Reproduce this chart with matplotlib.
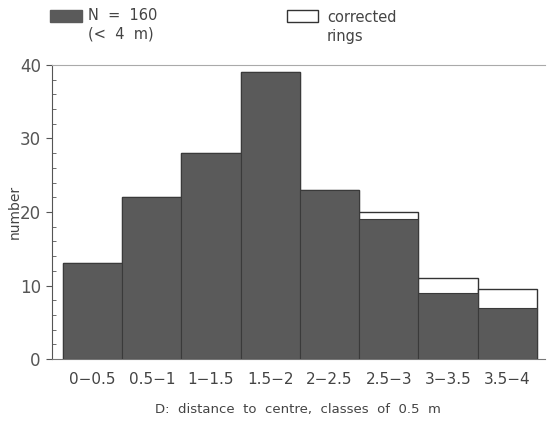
import matplotlib.pyplot as plt
import matplotlib.patches as mpatches
from matplotlib.ticker import MultipleLocator

categories = ["0−0.5", "0.5−1", "1−1.5", "1.5−2", "2−2.5", "2.5−3", "3−3.5", "3.5−4"]
observed = [13, 22, 28, 39, 23, 19, 9, 7]
corrected = [13, 22, 28, 39, 23, 20, 11, 9.5]

plt.rcParams['font.family'] = ['DejaVu Sans']
txt = '#444444'
dark = '#5a5a5a'

fig = plt.figure(figsize=(5.47, 4.24), dpi=100)
ax = fig.add_axes([0.095, 0.153, 0.901, 0.694])
x = list(range(len(categories)))
ax.bar(x, corrected, width=1.0, color='white', edgecolor='#333333', linewidth=1.0, zorder=2)
ax.bar(x, observed, width=1.0, color=dark, edgecolor='#3a3a3a', linewidth=0.8, zorder=3)

ax.set_xlim(-0.686, 7.635)
ax.set_ylim(0, 40)
ax.set_xticks(x)
ax.set_xticklabels(categories, fontsize=11, color=txt)
ax.tick_params(axis='x', length=0, pad=9)
ax.yaxis.set_major_locator(MultipleLocator(10))
ax.yaxis.set_minor_locator(MultipleLocator(2))
ax.tick_params(axis='y', which='major', direction='out', length=4, labelsize=12, colors='#555555', labelcolor='#555555', pad=4)
ax.tick_params(axis='y', which='minor', direction='in', length=3, color='#555555')
ax.spines['right'].set_visible(False)
ax.spines['top'].set_color('#aaaaaa')
ax.spines['left'].set_color('#555555')
ax.spines['bottom'].set_color('#777777')
ax.set_ylabel('number', fontsize=10, color=txt)
ax.yaxis.set_label_coords(-0.062, 0.5)
ax.set_xlabel('D:  distance  to  centre,  classes  of  0.5  m', fontsize=9.5, color=txt, labelpad=12)

# legend
fig.patches.append(mpatches.Rectangle((50/547, 1-22/424), 32/547, 12/424, transform=fig.transFigure,
                                      facecolor=dark, edgecolor=dark, figure=fig))
fig.patches.append(mpatches.Rectangle((287/547, 1-22/424), 31/547, 12/424, transform=fig.transFigure,
                                      facecolor='white', edgecolor='#333333', linewidth=1.0, figure=fig))
fig.text(88/547, 1-16/424, 'N  =  160', fontsize=10.5, color=txt, va='center', ha='left')
fig.text(88/547, 1-34/424, '(<  4  m)', fontsize=10.5, color=txt, va='center', ha='left')
fig.text(327/547, 1-18/424, 'corrected', fontsize=10.5, color=txt, va='center', ha='left')
fig.text(327/547, 1-36/424, 'rings', fontsize=10.5, color=txt, va='center', ha='left')

fig.savefig('out.png', dpi=100)
